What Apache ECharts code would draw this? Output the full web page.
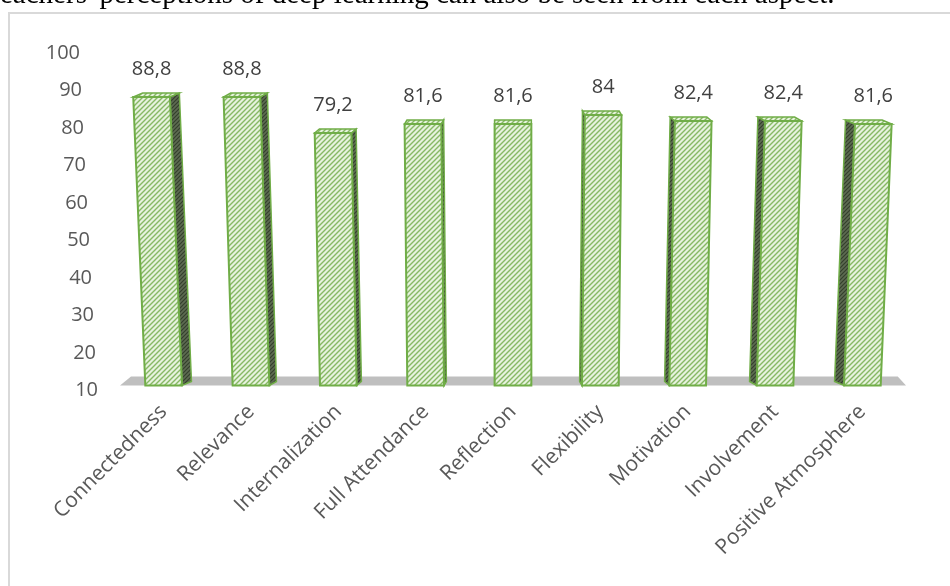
<!DOCTYPE html>
<html>
<head>
<meta charset="utf-8">
<script src="https://cdn.jsdelivr.net/npm/echarts@6/dist/echarts.min.js"></script>
<style>
  html, body { margin: 0; padding: 0; background: #fff; }
  #chart { width: 950px; height: 586px; }
</style>
</head>
<body>
<div id="chart"></div>
<script>
var categories = ['Connectedness', 'Relevance', 'Internalization', 'Full Attendance', 'Reflection',
  'Flexibility', 'Motivation', 'Involvement', 'Positive Atmosphere'];
var values = [88.8, 88.8, 79.2, 81.6, 81.6, 84, 82.4, 82.4, 81.6];
var yTicks = [10, 20, 30, 40, 50, 60, 70, 80, 90, 100];
var caption = "eachers' perceptions of deep learning can also be seen from each aspect.";

var yMin = yTicks[0], yMax = yTicks[yTicks.length - 1];

function make_pattern(bg, fg, size, lw) {
  var c = document.createElement('canvas');
  c.width = size; c.height = size;
  var ctx = c.getContext('2d');
  ctx.fillStyle = bg;
  ctx.fillRect(0, 0, size, size);
  ctx.strokeStyle = fg;
  ctx.lineWidth = lw;
  ctx.beginPath();
  ctx.moveTo(-1, size + 1); ctx.lineTo(size + 1, -1);
  ctx.moveTo(-1, 1); ctx.lineTo(1, -1);
  ctx.moveTo(size - 1, size + 1); ctx.lineTo(size + 1, size - 1);
  ctx.stroke();
  return { image: c, repeat: 'repeat' };
}

var front_fill = make_pattern('#e6f2dd', '#86b864', 5, 1.4);
var side_fill = make_pattern('#5d6b52', '#34402c', 4, 1.2);
var edge = '#70ad47';

// rich styles so the y labels lean like the perspective axis
var yRich = {};
yTicks.forEach(function (t) {
  yRich['p' + t] = { padding: [0, Math.round((t - yMin) / (yMax - yMin) * 18), 0, 0],
    fontSize: 20, color: '#595959', fontFamily: 'Open Sans' };
});

function fmt(v) { return String(v).replace('.', ','); }

function render_floor(params, api) {
  var sys = params.coordSys;
  var vp = sys.x + sys.width / 2;
  var yf = api.coord([0, yMin])[1] - 5;
  var xl = sys.x, xr = sys.x + sys.width;
  return {
    type: 'polygon',
    shape: { points: [[xl, yf], [xr, yf], [xr - (xr - vp) * 0.021, yf - 9], [xl + (vp - xl) * 0.028, yf - 9]] },
    style: { fill: '#bfbfbf' }
  };
}

function render_bar(params, api) {
  var sys = params.coordSys;
  var vp = sys.x + sys.width / 2;
  var v = api.value(1);
  var top = api.coord([api.value(0), v]);
  var base = api.coord([api.value(0), yMin]);
  var bw = api.size([1, 0])[0] * 0.42;
  var xc = base[0];
  var yb = base[1] - 5, yt = top[1] + 2;
  var s = (xc - vp) * (yb - yt) * 1.2e-4;
  var dx = (vp - xc) * 0.027, dy = 4;
  var xl = xc - bw / 2, xr = xc + bw / 2;
  var sx = dx > 0 ? xr : xl;
  var children = [
    {
      type: 'polygon',
      shape: { points: [[sx, yb], [sx + s, yt], [sx + s + dx, yt - dy], [sx + dx, yb - dy]] },
      style: { fill: side_fill, stroke: edge, lineWidth: 1.5 }
    },
    {
      type: 'polygon',
      shape: { points: [[xl + s, yt], [xr + s, yt], [xr + s + dx, yt - dy], [xl + s + dx, yt - dy]] },
      style: { fill: front_fill, stroke: edge, lineWidth: 1.5 }
    },
    {
      type: 'polygon',
      shape: { points: [[xl, yb], [xr, yb], [xr + s, yt], [xl + s, yt]] },
      style: { fill: front_fill, stroke: edge, lineWidth: 2 }
    },
    {
      type: 'text',
      style: {
        x: xc + s, y: yt - dy - 14, text: fmt(v),
        align: 'center', verticalAlign: 'bottom',
        fontSize: 20, fontFamily: 'Open Sans', fill: '#404040'
      }
    }
  ];
  return { type: 'group', children: children };
}

var chart = echarts.init(document.getElementById('chart'));
var option = {
  animation: false,
  graphic: [
    { type: 'rect', shape: { x: 9, y: 13, width: 980, height: 620 },
      style: { fill: null, stroke: '#d9d9d9', lineWidth: 2 }, z: -10 },
    { type: 'text', left: 0, top: -19,
      style: { text: caption, fontSize: 29, fontFamily: 'Liberation Serif', fill: '#000' } }
  ],
  grid: { left: 120, width: 786, top: 53, bottom: 195.5 },
  xAxis: {
    type: 'category',
    data: categories,
    axisLine: { show: false },
    axisTick: { show: false },
    axisLabel: { rotate: 45, margin: 18, interval: 0, fontSize: 21, color: '#595959', fontFamily: 'Open Sans' }
  },
  yAxis: {
    type: 'value',
    min: yMin, max: yMax, interval: 10,
    axisLine: { show: false },
    axisTick: { show: false },
    splitLine: { show: false },
    axisLabel: {
      margin: 22,
      formatter: function (v) { return '{p' + v + '|' + v + '}'; },
      rich: yRich
    }
  },
  series: [
    { type: 'custom', renderItem: render_floor, data: [[0, yMin]], z: 1, silent: true },
    { type: 'custom', renderItem: render_bar, z: 2,
      data: values.map(function (v, i) { return [i, v]; }) }
  ]
};
chart.setOption(option);
</script>
</body>
</html>
